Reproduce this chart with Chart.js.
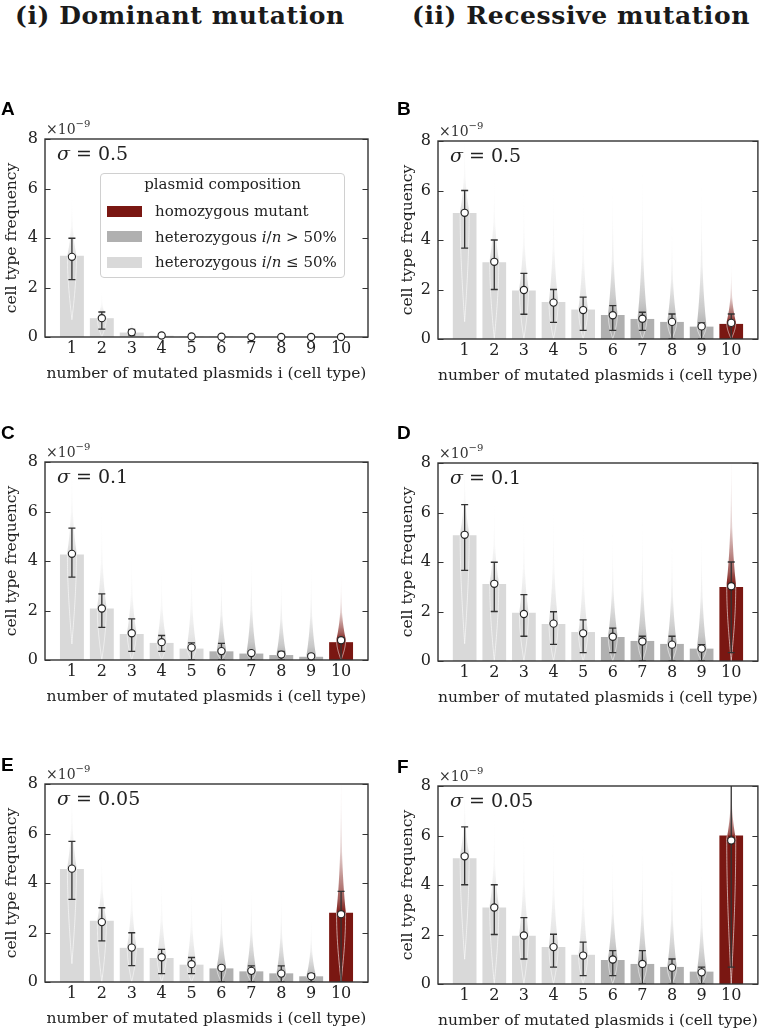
<!DOCTYPE html>
<html>
<head>
<meta charset="utf-8">
<script src="https://cdn.jsdelivr.net/npm/chart.js@4.4.1/dist/chart.umd.min.js"></script>
<style>
html,body{margin:0;padding:0;background:#fff;}
#page{position:relative;width:763px;height:1033px;overflow:hidden;font-family:'DejaVu Serif',serif;color:#222;}
canvas{position:absolute;}
.coltitle{position:absolute;font-weight:bold;font-size:25px;line-height:25px;letter-spacing:0.6px;white-space:nowrap;color:#1a1a1a;}
.letter{position:absolute;font-family:'Liberation Sans',Arial,sans-serif;font-weight:bold;font-size:19px;line-height:19px;color:#000;}
.mult{position:absolute;font-size:14px;line-height:14px;white-space:nowrap;color:#333;}
.mult span{position:relative;top:-7px;font-size:10px;}
.sigma{position:absolute;font-size:19px;line-height:19px;white-space:nowrap;color:#222;}
.legend{position:absolute;left:100px;top:173px;width:243px;height:103px;border:1px solid #d0d0d0;border-radius:4px;background:rgba(255,255,255,0.85);font-size:15px;line-height:15px;color:#222;}
.legend .lt{position:absolute;left:0;width:243px;text-align:center;top:3px;white-space:nowrap;}
.legend .patch{position:absolute;left:6px;width:35px;height:11px;}
.legend .txt{position:absolute;left:54px;white-space:nowrap;}
</style>
</head>
<body>
<div id="page">
  <div class="coltitle" style="left:15px;top:3px;">(i) Dominant mutation</div>
  <div class="coltitle" style="left:412px;top:3px;">(ii) Recessive mutation</div>
</div>
<script>
// ---------------- data ----------------
const categories = [1, 2, 3, 4, 5, 6, 7, 8, 9, 10];
const nPlasmids = 10;
const yTicks = [0, 2, 4, 6, 8];

// Panel A: dominant, sigma = 0.5
const barsA  = [3.28, 0.76, 0.18, 0.05, 0.02, 0.01, 0, 0, 0, 0];
const meanA  = [3.24, 0.76, 0.19, 0.06, 0.02, 0.01, 0, 0, 0, 0];
const loA    = [2.32, 0.32, 0.08, 0.02, 0, 0, 0, 0, 0, 0];
const hiA    = [3.99, 1.01, 0.31, 0.1, 0.04, 0.02, 0.01, 0.01, 0.01, 0.01];
const vminA  = [0.7, 0, 0, 0, 0, 0, 0, 0, 0, 0];
const vmaxA  = [6.2, 2.0, 0.75, 0.35, 0.1, 0.05, 0.05, 0.05, 0.05, 0.05];

// Panel B: recessive, sigma = 0.5
const barsB  = [5.09, 3.1, 1.96, 1.5, 1.19, 0.97, 0.81, 0.69, 0.5, 0.61];
const meanB  = [5.1, 3.12, 1.98, 1.47, 1.17, 0.96, 0.82, 0.69, 0.51, 0.65];
const loB    = [3.67, 2.0, 1.0, 0.67, 0.35, 0.35, 0.35, 0, 0, 0];
const hiB    = [6.0, 4.0, 2.65, 2.0, 1.69, 1.35, 1.08, 1.01, 0.65, 1.01];
const vminB  = [0.7, 0, 0, 0, 0, 0, 0, 0, 0, 0];
const vmaxB  = [8.5, 7.0, 6.5, 6.8, 6.2, 6.6, 7.2, 5.0, 6.6, 3.2];

// Panel C: dominant, sigma = 0.1
const barsC  = [4.26, 2.08, 1.05, 0.69, 0.46, 0.35, 0.26, 0.2, 0.13, 0.72];
const meanC  = [4.29, 2.08, 1.08, 0.72, 0.5, 0.36, 0.28, 0.22, 0.15, 0.8];
const loC    = [3.35, 1.32, 0.35, 0.35, 0, 0, 0, 0, 0, 0];
const hiC    = [5.33, 2.67, 1.66, 0.99, 0.69, 0.67, 0.35, 0.35, 0.2, 0.9];
const vminC  = [0.65, 0, 0, 0, 0, 0, 0, 0, 0, 0];
const vmaxC  = [8.5, 6.6, 4.8, 4.2, 4.6, 4.0, 4.6, 3.8, 4.2, 3.6];

// Panel D: recessive, sigma = 0.1
const barsD  = [5.08, 3.11, 1.95, 1.49, 1.17, 0.97, 0.81, 0.69, 0.5, 2.99];
const meanD  = [5.1, 3.12, 1.9, 1.51, 1.12, 0.98, 0.79, 0.66, 0.5, 3.02];
const loD    = [3.66, 2.0, 1.0, 0.67, 0.34, 0.34, 0, 0, 0, 0.34];
const hiD    = [6.32, 3.99, 2.68, 1.99, 1.66, 1.33, 1.0, 1.0, 0.66, 4.0];
const vminD  = [0.7, 0, 0, 0, 0, 0, 0, 0, 0, 0];
const vmaxD  = [8.5, 6.8, 6.5, 6.9, 6.0, 5.5, 6.0, 5.5, 5.7, 9.0];

// Panel E: dominant, sigma = 0.05
const barsE  = [4.57, 2.47, 1.38, 0.97, 0.7, 0.55, 0.43, 0.35, 0.23, 2.8];
const meanE  = [4.58, 2.42, 1.39, 1.0, 0.72, 0.57, 0.45, 0.34, 0.23, 2.74];
const loE    = [3.34, 1.66, 0.66, 0.34, 0.34, 0, 0, 0, 0, 0];
const hiE    = [5.68, 3.0, 1.99, 1.32, 0.99, 0.65, 0.65, 0.65, 0.34, 3.66];
const vminE  = [0.74, 0, 0, 0, 0, 0, 0, 0, 0, 0];
const vmaxE  = [8.5, 5.7, 5.2, 4.8, 4.4, 4.0, 4.2, 4.0, 2.8, 9.0];

// Panel F: recessive, sigma = 0.05
const barsF  = [5.08, 3.09, 1.95, 1.49, 1.18, 0.97, 0.81, 0.69, 0.5, 6.0];
const meanF  = [5.16, 3.09, 1.96, 1.49, 1.15, 0.99, 0.81, 0.66, 0.47, 5.8];
const loF    = [4.01, 2.0, 1.01, 0.68, 0.34, 0.34, 0, 0, 0, 0.68];
const hiF    = [6.35, 4.01, 2.68, 2.01, 1.69, 1.35, 1.35, 1.01, 0.68, 8.5];
const vminF  = [1.0, 0, 0, 0, 0, 0, 0, 0, 0, 0];
const vmaxF  = [8.5, 7.2, 7.0, 6.8, 6.2, 5.6, 5.9, 5.5, 5.0, 9.0];

const sigmaLabels = ['0.5', '0.5', '0.1', '0.1', '0.05', '0.05'];
const legendTitle = 'plasmid composition';
const legendItems = ['homozygous mutant', 'heterozygous <i>i</i>/<i>n</i> &gt; 50%', 'heterozygous <i>i</i>/<i>n</i> ≤ 50%'];
const yTitle = 'cell type frequency';
const xTitle = 'number of mutated plasmids i (cell type)';

// ---------------- styles ----------------
const COL_RED = '#7a1712', COL_DARK = '#b0b0b0', COL_LIGHT = '#d9d9d9';
function colorFor(i) {
  if (i === nPlasmids) return COL_RED;
  if (i / nPlasmids > 0.5) return COL_DARK;
  return COL_LIGHT;
}
function rgba(hex, a) {
  const n = parseInt(hex.slice(1), 16);
  return `rgba(${(n >> 16) & 255},${(n >> 8) & 255},${n & 255},${a})`;
}

Chart.defaults.font.family = "'DejaVu Serif', serif";
Chart.defaults.color = '#222';

const overlayPlugin = {
  id: 'overlay',
  afterDatasetDraw(chart, args, opts) {
    if (args.index !== 0) return;
    const {ctx, chartArea: ca} = chart;
    const xs = chart.scales.x, ys = chart.scales.y;
    ctx.save();
    ctx.beginPath();
    ctx.rect(ca.left, ca.top, ca.right - ca.left, ca.bottom - ca.top);
    ctx.clip();
    // violins
    const hw = 4.5;
    categories.forEach((c, i) => {
      const lo = opts.vmin[i], hi = opts.vmax[i];
      let mid = Math.max(opts.mean[i], lo);
      if (hi <= lo) return;
      const cx = xs.getPixelForValue(c);
      const yLo = ys.getPixelForValue(lo), yMid = ys.getPixelForValue(mid), yHi = ys.getPixelForValue(hi);
      const pts = [];
      const N = 50;
      for (let k = 0; k <= N; k++) {
        const t = k / N;
        pts.push([hw * Math.sin(t * Math.PI / 2), yLo + (yMid - yLo) * t]);
      }
      for (let k = 1; k <= N; k++) {
        const t = k / N;
        pts.push([hw * Math.pow(1 - t, 3.6) + 0.4 * (1 - t), yMid + (yHi - yMid) * t]);
      }
      ctx.beginPath();
      pts.forEach(([w, y], j) => j ? ctx.lineTo(cx - w, y) : ctx.moveTo(cx - w, y));
      for (let j = pts.length - 1; j >= 0; j--) ctx.lineTo(cx + pts[j][0], pts[j][1]);
      ctx.closePath();
      const col = colorFor(c);
      const g = ctx.createLinearGradient(0, yLo, 0, yHi);
      const f = Math.min(Math.max((yMid - yLo) / (yHi - yLo), 0), 0.98);
      g.addColorStop(0, rgba(col, 1));
      g.addColorStop(f, rgba(col, 1));
      g.addColorStop(f + (1 - f) * 0.1, rgba(col, 0.7));
      g.addColorStop(f + (1 - f) * 0.4, rgba(col, 0.2));
      g.addColorStop(1, rgba(col, 0));
      ctx.fillStyle = g;
      ctx.fill();
      // white edges only inside the bar region
      ctx.save();
      const yBarTop = ys.getPixelForValue(opts.bars[i]);
      ctx.beginPath();
      ctx.rect(cx - 15, yBarTop, 30, ca.bottom - yBarTop);
      ctx.clip();
      ctx.beginPath();
      pts.forEach(([w, y], j) => j ? ctx.lineTo(cx - w, y) : ctx.moveTo(cx - w, y));
      for (let j = pts.length - 1; j >= 0; j--) ctx.lineTo(cx + pts[j][0], pts[j][1]);
      ctx.closePath();
      ctx.strokeStyle = 'rgba(255,255,255,0.85)';
      ctx.lineWidth = 0.7;
      ctx.stroke();
      ctx.restore();
    });
    // error bars
    ctx.strokeStyle = '#333';
    ctx.lineWidth = 1.3;
    categories.forEach((c, i) => {
      const cx = xs.getPixelForValue(c);
      const y1 = ys.getPixelForValue(opts.lo[i]), y2 = ys.getPixelForValue(opts.hi[i]);
      ctx.beginPath();
      ctx.moveTo(cx, y1); ctx.lineTo(cx, y2);
      ctx.moveTo(cx - 3.5, y1); ctx.lineTo(cx + 3.5, y1);
      ctx.moveTo(cx - 3.5, y2); ctx.lineTo(cx + 3.5, y2);
      ctx.stroke();
    });
    ctx.restore();
    // frame and inward ticks
    ctx.save();
    ctx.strokeStyle = '#333';
    ctx.lineWidth = 1.4;
    ctx.strokeRect(ca.left, ca.top, ca.right - ca.left, ca.bottom - ca.top);
    ctx.lineWidth = 1.1;
    yTicks.forEach(v => {
      const y = Math.round(ys.getPixelForValue(v)) + 0.5;
      ctx.beginPath();
      ctx.moveTo(ca.left, y); ctx.lineTo(ca.left + 5.5, y);
      ctx.moveTo(ca.right, y); ctx.lineTo(ca.right - 5.5, y);
      ctx.stroke();
    });
    ctx.restore();
  }
};

const panels = [
  {id: 'A', col: 0, plotTop: 139, bars: barsA, mean: meanA, lo: loA, hi: hiA, vmin: vminA, vmax: vmaxA, letterTop: 99},
  {id: 'B', col: 1, plotTop: 141, bars: barsB, mean: meanB, lo: loB, hi: hiB, vmin: vminB, vmax: vmaxB, letterTop: 99},
  {id: 'C', col: 0, plotTop: 462, bars: barsC, mean: meanC, lo: loC, hi: hiC, vmin: vminC, vmax: vmaxC, letterTop: 423},
  {id: 'D', col: 1, plotTop: 463, bars: barsD, mean: meanD, lo: loD, hi: hiD, vmin: vminD, vmax: vmaxD, letterTop: 423},
  {id: 'E', col: 0, plotTop: 784, bars: barsE, mean: meanE, lo: loE, hi: hiE, vmin: vminE, vmax: vmaxE, letterTop: 755},
  {id: 'F', col: 1, plotTop: 786, bars: barsF, mean: meanF, lo: loF, hi: hiF, vmin: vminF, vmax: vmaxF, letterTop: 757}
];
const colGeom = [
  {canvasLeft: 0, canvasWidth: 380, yW: 45, padR: 12, titlePad: 3, plotLeft: 45, letterLeft: 1},
  {canvasLeft: 394, canvasWidth: 369, yW: 44, padR: 4, titlePad: 5, plotLeft: 438, letterLeft: 397}
];

const page = document.getElementById('page');
const PLOT_H = 198, PAD_T = 25, X_H = 50;

panels.forEach((p, idx) => {
  const g = colGeom[p.col];
  const cv = document.createElement('canvas');
  const H = PAD_T + PLOT_H + X_H;
  cv.width = g.canvasWidth; cv.height = H;
  cv.style.left = g.canvasLeft + 'px';
  cv.style.top = (p.plotTop - PAD_T) + 'px';
  cv.style.width = g.canvasWidth + 'px';
  cv.style.height = H + 'px';
  page.appendChild(cv);

  new Chart(cv.getContext('2d'), {
    type: 'bar',
    data: {
      datasets: [
        {
          type: 'bar',
          order: 2,
          data: categories.map((c, i) => ({x: c, y: p.bars[i]})),
          backgroundColor: categories.map(colorFor),
          borderWidth: 0,
          categoryPercentage: 1.0,
          barPercentage: 0.8
        },
        {
          type: 'scatter',
          order: 1,
          data: categories.map((c, i) => ({x: c, y: p.mean[i]})),
          pointRadius: 3.6,
          pointBorderWidth: 1.1,
          pointBorderColor: '#222',
          pointBackgroundColor: '#fff',
          clip: false
        }
      ]
    },
    options: {
      responsive: false,
      animation: false,
      devicePixelRatio: 1,
      layout: {padding: {top: PAD_T, right: g.padR, left: 0, bottom: 0}},
      plugins: {
        legend: {display: false},
        tooltip: {enabled: false},
        overlay: {bars: p.bars, mean: p.mean, lo: p.lo, hi: p.hi, vmin: p.vmin, vmax: p.vmax}
      },
      scales: {
        x: {
          type: 'linear',
          min: 0.1, max: 10.9,
          offset: false,
          grid: {display: false, drawTicks: false},
          border: {display: false},
          afterBuildTicks: s => { s.ticks = categories.map(v => ({value: v})); },
          afterFit: s => { s.height = X_H; },
          ticks: {padding: 2, font: {size: 16}, color: '#222', maxRotation: 0, autoSkip: false, callback: v => String(v)},
          title: {display: true, text: xTitle, font: {size: 15.5}, color: '#222', padding: {top: 0, bottom: 3.7}}
        },
        y: {
          type: 'linear',
          min: 0, max: 8,
          grid: {display: false, drawTicks: false},
          border: {display: false},
          afterBuildTicks: s => { s.ticks = yTicks.map(v => ({value: v})); },
          afterFit: s => { s.width = g.yW; },
          ticks: {padding: 7, font: {size: 16}, color: '#222', callback: v => String(v)},
          title: {display: true, text: yTitle, font: {size: 15.5}, color: '#222', padding: {top: g.titlePad, bottom: 0}}
        }
      }
    },
    plugins: [overlayPlugin]
  });

  // panel letter
  const L = document.createElement('div');
  L.className = 'letter';
  L.textContent = p.id;
  L.style.left = g.letterLeft + 'px';
  L.style.top = p.letterTop + 'px';
  page.appendChild(L);

  // x10^-9 multiplier
  const M = document.createElement('div');
  M.className = 'mult';
  M.innerHTML = '×10<span>−9</span>';
  M.style.left = (g.plotLeft + 1) + 'px';
  M.style.top = (p.plotTop - 17.5) + 'px';
  page.appendChild(M);

  // sigma label
  const S = document.createElement('div');
  S.className = 'sigma';
  S.innerHTML = '<i>σ</i> = ' + sigmaLabels[idx];
  S.style.left = (g.plotLeft + 12) + 'px';
  S.style.top = (p.plotTop + 5) + 'px';
  page.appendChild(S);
});

// legend in panel A
const lg = document.createElement('div');
lg.className = 'legend';
let html = `<div class="lt">${legendTitle}</div>`;
const legendColors = [COL_RED, COL_DARK, COL_LIGHT];
const rowTops = [30, 55.5, 81];
legendItems.forEach((t, i) => {
  html += `<div class="patch" style="top:${rowTops[i] + 1.7}px;background:${legendColors[i]}"></div>`;
  html += `<div class="txt" style="top:${rowTops[i]}px">${t}</div>`;
});
lg.innerHTML = html;
page.appendChild(lg);
</script>
</body>
</html>
